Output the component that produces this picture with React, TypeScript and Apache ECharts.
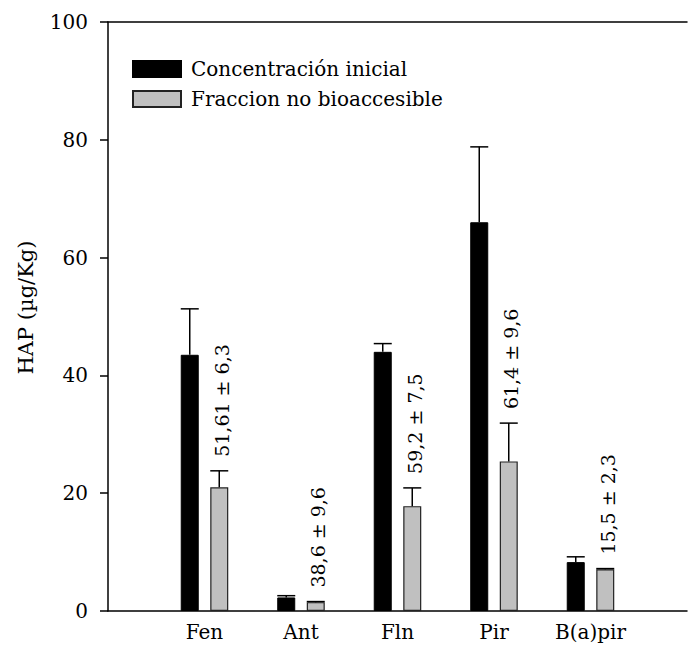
import React, { useEffect, useRef } from "react";
import * as echarts from "echarts";

// Padded categories: blank slots at both ends keep the axis running past the last group.
const categories = ["", "Fen", "Ant", "Fln", "Pir", "B(a)pir", ""];
const initial = [null, 43.5, 2.3, 44.0, 66.0, 8.3, null];
const initialErr = [null, 7.8, 0.3, 1.4, 12.8, 0.9, null];
const nonBio = [null, 21.0, 1.5, 17.8, 25.4, 7.1, null];
const nonBioErr = [null, 2.8, 0.1, 3.1, 6.5, 0.1, null];
const pctLabels = ["", "51,61 ± 6,3", "38,6 ± 9,6", "59,2 ± 7,5", "61,4 ± 9,6", "15,5 ± 2,3", ""];
const yTicks = { min: 0, max: 100, interval: 20 };

const FONT = "DejaVu Serif";
const BAR_W = 18;
const OFFSET = 14.75;

function errorSeries(name: string, values: (number | null)[], errs: (number | null)[], dx: number, withLabel: boolean) {
  const data = values.map((v, i) => (v == null ? null : [i, v, errs[i]]));
  return {
    type: "custom",
    name,
    xAxisIndex: 0,
    yAxisIndex: 0,
    z: 5,
    silent: true,
    data: data.filter((d) => d != null),
    renderItem: (params: any, api: any) => {
      const idx = api.value(0);
      const v = api.value(1);
      const e = api.value(2);
      const base = api.coord([idx, v]);
      const top = api.coord([idx, v + e]);
      const x = base[0] + dx;
      const children: any[] = [
        { type: "line", shape: { x1: x, y1: base[1], x2: x, y2: top[1] }, style: { stroke: "#000", lineWidth: 1.5 } },
        { type: "line", shape: { x1: x - BAR_W / 2, y1: top[1], x2: x + BAR_W / 2, y2: top[1] }, style: { stroke: "#000", lineWidth: 1.5 } },
      ];
      if (withLabel) {
        children.push({
          type: "text",
          x: x + 2.5,
          y: top[1] - 14,
          rotation: Math.PI / 2,
          style: {
            text: pctLabels[idx],
            fontFamily: FONT,
            fontSize: 19,
            fill: "#000",
            align: "left",
            verticalAlign: "middle",
          },
        });
      }
      return { type: "group", children };
    },
  };
}

export default function App() {
  const ref = useRef<HTMLDivElement>(null);
  useEffect(() => {
    if (!ref.current) return;
    const chart = echarts.init(ref.current, undefined, { renderer: "svg" });
    chart.setOption({
      animation: false,
      backgroundColor: "#fff",
      textStyle: { fontFamily: FONT },
      grid: { left: 108, right: -6, top: 22, bottom: 36, containLabel: false },
      legend: {
        orient: "vertical",
        left: 127,
        top: 54,
        itemWidth: 48,
        itemHeight: 16,
        itemGap: 10,
        icon: "rect",
        selectedMode: false,
        data: ["Concentración inicial", "Fraccion no bioaccesible"],
        textStyle: { fontFamily: FONT, fontSize: 20, color: "#000", padding: [0, 0, 0, 5] },
      },
      xAxis: [
        {
          type: "category",
          data: categories,
          boundaryGap: false,
          axisLine: { lineStyle: { color: "#000", width: 1.5 } },
          axisTick: { show: false },
          axisLabel: { color: "#000", fontFamily: FONT, fontSize: 20, margin: 11 },
        },
        {
          type: "category",
          data: categories,
          boundaryGap: false,
          position: "top",
          axisLine: { lineStyle: { color: "#000", width: 1.5 } },
          axisTick: { show: false },
          axisLabel: { show: false },
        },
      ],
      yAxis: {
        type: "value",
        min: yTicks.min,
        max: yTicks.max,
        interval: yTicks.interval,
        name: "HAP (µg/Kg)",
        nameLocation: "middle",
        nameGap: 72,
        nameRotate: 90,
        nameTextStyle: { color: "#000", fontFamily: FONT, fontSize: 21, padding: [0, 0, 0, 18] },
        axisLine: { show: true, lineStyle: { color: "#000", width: 1.5 } },
        axisTick: { show: true, inside: false, length: 8, lineStyle: { color: "#000", width: 1.5 } },
        axisLabel: { color: "#000", fontFamily: FONT, fontSize: 20, margin: 20 },
        splitLine: { show: false },
      },
      series: [
        {
          type: "bar",
          name: "Concentración inicial",
          data: initial,
          barWidth: BAR_W,
          barGap: "64%",
          itemStyle: { color: "#000", borderColor: "#000", borderWidth: 1 },
        },
        {
          type: "bar",
          name: "Fraccion no bioaccesible",
          data: nonBio,
          barWidth: BAR_W,
          barGap: "64%",
          itemStyle: { color: "#c0c0c0", borderColor: "#222", borderWidth: 1.2 },
        },
        errorSeries("errInitial", initial, initialErr, -OFFSET, false),
        errorSeries("errNonBio", nonBio, nonBioErr, OFFSET, true),
      ],
    });
    return () => chart.dispose();
  }, []);
  return <div ref={ref} style={{ position: "fixed", left: 0, top: 0, width: 690, height: 647 }} />;
}
